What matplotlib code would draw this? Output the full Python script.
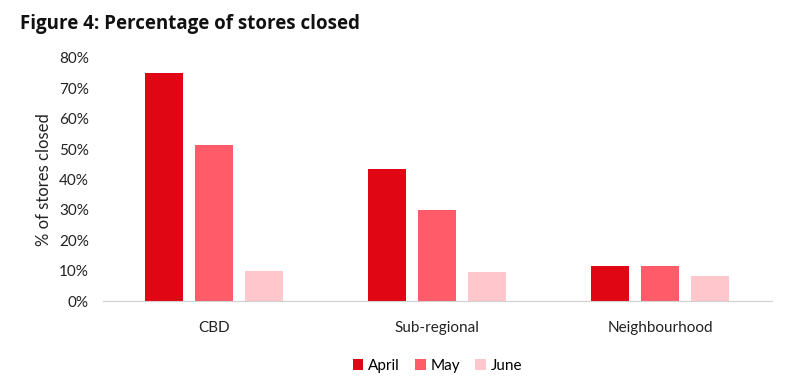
import numpy as np
import matplotlib.pyplot as plt

# datos
categories = ["CBD", "Sub-regional", "Neighbourhood"]
months = ["April", "May", "June"]
april = [75.0, 43.5, 11.5]
may = [51.5, 30.0, 11.5]
june = [10.0, 9.5, 8.2]
series = [april, may, june]
colors = ["#E00614", "#FF5B69", "#FFC7CC"]
yticks = [0, 10, 20, 30, 40, 50, 60, 70, 80]

plt.rcParams["font.family"] = ["Lato", "DejaVu Sans"]

fig = plt.figure(figsize=(7.85, 3.89), dpi=100)
ax = fig.add_axes([0.131, 0.226, 0.852, 0.625])

x = np.arange(len(categories))
width = 0.17
step = 0.224
for i, (vals, name) in enumerate(zip(series, months)):
    ax.bar(x + (i - 1) * step, vals, width, color=colors[i], label=name)

ax.set_xlim(-0.5, 2.5)
ax.set_ylim(0, 80)
ax.set_yticks(yticks)
ax.set_yticklabels(["{}%".format(v) for v in yticks], fontsize=11, color="#222222")
ax.set_xticks(x)
ax.set_xticklabels(categories, fontsize=11, color="#222222")
ax.tick_params(axis="y", length=0, pad=10)
ax.tick_params(axis="x", length=0, pad=14)

for s in ["top", "right", "left"]:
    ax.spines[s].set_visible(False)
ax.spines["bottom"].set_color("#d0d0d0")

ax.set_ylabel("% of stores closed", fontsize=12, color="#222222", labelpad=5)

fig.text(0.025, 0.925, "Figure 4: Percentage of stores closed", fontsize=13.5,
         fontweight="bold", family=["Open Sans", "DejaVu Sans"], color="#111111")

ax.legend(loc="upper center", bbox_to_anchor=(0.5, -0.18), ncol=3, frameon=False,
          fontsize=11, handlelength=0.7, handleheight=0.7, columnspacing=1.0,
          handletextpad=0.3)

fig.savefig("out.png", dpi=100, facecolor="white")
